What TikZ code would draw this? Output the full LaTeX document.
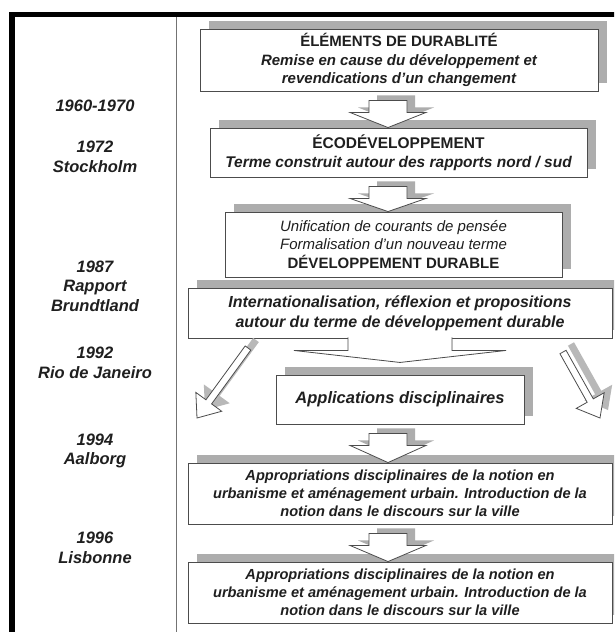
\documentclass[tikz,border=0pt]{standalone}
\usepackage{fontspec}
\setmainfont{Liberation Sans}
\usepackage{tikz}
\usetikzlibrary{positioning,calc,shadows}

\newcommand{\stepdown}[2]{%
	\coordinate (t) at ($(#1.south -| axe)+(0,9)$);
	\coordinate (h) at ($(t)+(0,12)$);
	\coordinate (p) at (#2.north -| axe);
	\draw[arrowbox] ($(t)+(-19,0)$) -- ($(t)+(19,0)$) -- ($(h)+(19,0)$) -- ($(h)+(38,0)$) -- (p) -- ($(h)+(-38,0)$) -- ($(h)+(-19,0)$) -- cycle;
}
\newcommand{\slantarrow}[2]{%
	\coordinate (h) at ($(#2)!20pt!(#1)$);
	\draw[slant] ($(#1)!3.5pt!90:(#2)$) -- ($(h)!3.5pt!90:(#2)$) -- ($(h)!16pt!90:(#2)$) -- (#2) -- ($(h)!16pt!-90:(#2)$) -- ($(h)!3.5pt!-90:(#2)$) -- ($(#1)!3.5pt!-90:(#2)$) -- cycle;
}
\newcommand{\spreadarrow}[1]{%
	\path[#1] ($(b4.south)+(-52,-1)$) -- ++(0,13) -- ++(-54,0) -- ($(b4.south)+(0,24)$) -- ++(106,-12) -- ++(-54,0) -- ++(0,-13);
}

\begin{document}
\begin{tikzpicture}[x=1pt, y=-1pt,
	every node/.style={inner sep=0pt, text=black!88},
	panel/.style={draw=black!70, fill=white, line width=0.9pt, align=center, font=\bfseries\itshape\fontsize{15}{18.5}\selectfont, drop shadow={shadow xshift=9pt, shadow yshift=8pt, fill=black!32, opacity=1}},
	datelabel/.style={align=center, font=\bfseries\itshape\fontsize{16.5}{19.5}\selectfont},
	arrowbox/.style={draw=black!70, fill=white, line width=0.8pt, drop shadow={shadow xshift=8pt, shadow yshift=5pt, fill=black!32, opacity=1}},
	slant/.style={draw=black!70, fill=white, line width=0.8pt, drop shadow={shadow xshift=8pt, shadow yshift=8pt, fill=black!28, opacity=1}}]
	\clip (0,0) rectangle (614,632);
	\fill[white] (0,0) rectangle (614,632);
	\draw[line width=5.5pt] (12,640) -- (12,14.5) -- (630,14.5);
	\draw[black!55, line width=0.9pt] (176,17) -- (176,640);
	\coordinate (axe) at (388,0);

	\node[datelabel](d1) at (95,106) {1960-1970};
	\node[datelabel](d2) at (95,157) {1972\\Stockholm};
	\node[datelabel](d3) at (95,286) {1987\\Rapport\\Brundtland};
	\node[datelabel](d4) at (95,363) {1992\\Rio de Janeiro};
	\node[datelabel](d5) at (95,451) {1994\\Aalborg};
	\node[datelabel](d6) at (95,548) {1996\\Lisbonne};

	\node[panel, minimum width=398pt, minimum height=62pt](b1) at (399,60) {{\upshape ÉLÉMENTS DE DURABLITÉ}\\Remise en cause du développement et\\revendications d'un changement};
	\node[panel, minimum width=377pt, minimum height=49pt, font=\bfseries\itshape\fontsize{15.5}{19}\selectfont](b2) at (398.5,152.5) {{\upshape ÉCODÉVELOPPEMENT}\\Terme construit autour des rapports nord / sud};
	\node[panel, minimum width=337pt, minimum height=65pt](b3) at (393.5,244.5) {{\mdseries Unification de courants de pensée}\\{\mdseries Formalisation d'un nouveau terme}\\{\upshape DÉVELOPPEMENT DURABLE}};
	\node[panel, minimum width=424pt, minimum height=50pt, font=\bfseries\itshape\fontsize{16}{20}\selectfont](b4) at (400,313) {Internationalisation, réflexion et propositions\\autour du terme de développement durable};
	\node[panel, minimum width=248pt, minimum height=49pt, font=\bfseries\itshape\fontsize{16.5}{19}\selectfont](ap) at (400,399.5) {Applications disciplinaires};
	\node[panel, minimum width=424pt, minimum height=61pt, font=\bfseries\itshape\fontsize{14.6}{18}\selectfont](b5) at (400,493.5) {Appropriations disciplinaires de la notion en\\urbanisme et aménagement urbain. Introduction de la\\notion dans le discours sur la ville};
	\node[panel, minimum width=424pt, minimum height=61pt, font=\bfseries\itshape\fontsize{14.6}{18}\selectfont](b6) at (400,592.5) {Appropriations disciplinaires de la notion en\\urbanisme et aménagement urbain. Introduction de la\\notion dans le discours sur la ville};

	\stepdown{b1}{b2}
	\stepdown{b2}{b3}
	\stepdown{ap}{b5}
	\stepdown{b5}{b6}

	\begin{scope}
		\clip (188,339) rectangle (614,380);
		\spreadarrow{fill=black!32, xshift=8pt, yshift=8pt}
	\end{scope}
	\spreadarrow{draw=black!70, fill=white, line width=0.8pt}

	\coordinate (ls) at (248,348);
	\coordinate (lt) at (197,418);
	\coordinate (rs) at (563,352);
	\coordinate (rt) at (600,418);
	\slantarrow{ls}{lt}
	\slantarrow{rs}{rt}
\end{tikzpicture}
\end{document}
